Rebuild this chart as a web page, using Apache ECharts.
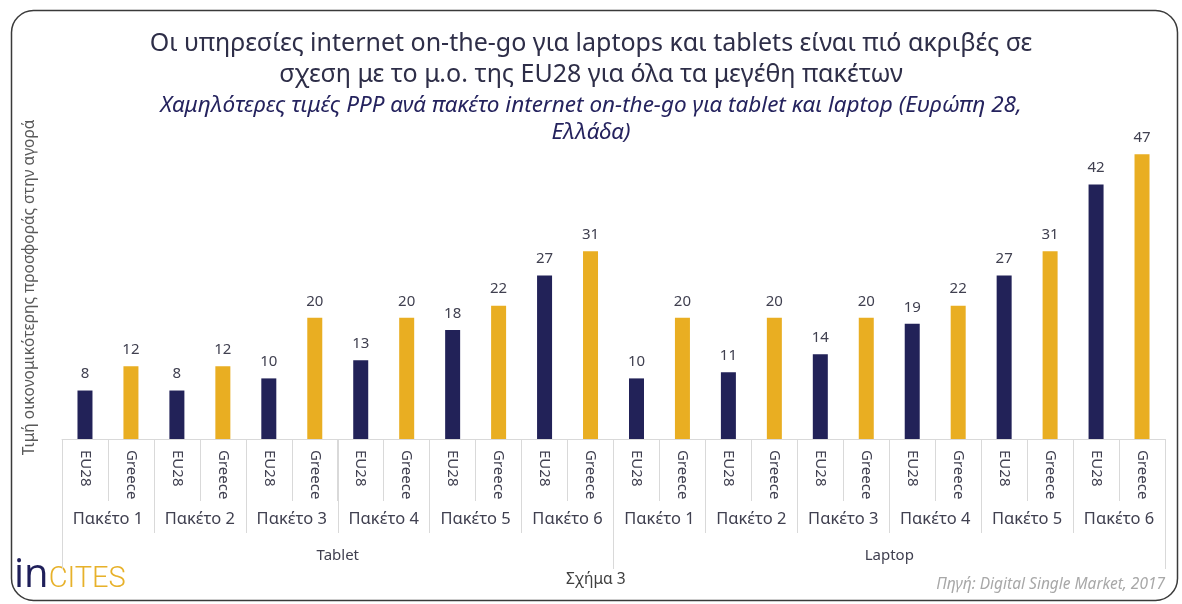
<!DOCTYPE html>
<html>
<head>
<meta charset="utf-8">
<script src="https://cdn.jsdelivr.net/npm/echarts@6/dist/echarts.min.js"></script>
<style>
html,body{margin:0;padding:0;background:#fff;}
#chart{width:1182px;height:604px;}
</style>
</head>
<body>
<div id="chart"></div>
<script>
const countries = ['EU28', 'Greece'];
const packages = ['Πακέτο 1', 'Πακέτο 2', 'Πακέτο 3', 'Πακέτο 4', 'Πακέτο 5', 'Πακέτο 6'];
const devices = ['Tablet', 'Laptop'];
const tabletEU28 = [8, 8, 10, 13, 18, 27];
const tabletGreece = [12, 12, 20, 20, 22, 31];
const laptopEU28 = [10, 11, 14, 19, 27, 42];
const laptopGreece = [20, 20, 20, 22, 31, 47];

const NAVY = '#222258';
const GOLD = '#E9AE22';
const FONT = 'Noto Sans';

const seriesByDevice = [[tabletEU28, tabletGreece], [laptopEU28, laptopGreece]];
const level1 = [], level2 = [], values = [];
devices.forEach((d, di) => {
  packages.forEach((p, pi) => {
    level2.push(p);
    countries.forEach((c, ci) => {
      level1.push(c);
      values.push({ value: seriesByDevice[di][ci][pi], itemStyle: { color: ci === 0 ? NAVY : GOLD } });
    });
  });
});

const gridPos = { left: 62, right: 17, top: 136, bottom: 165 };
const sepColor = '#d9d9d9';

const chart = echarts.init(document.getElementById('chart'), null, { renderer: 'canvas' });
chart.setOption({
  backgroundColor: '#ffffff',
  animation: false,
  textStyle: { fontFamily: FONT },
  title: [
    {
      text: 'Οι υπηρεσίες internet on-the-go για laptops και tablets είναι πιό ακριβές σε\nσχεση με το μ.ο. της EU28 για όλα τα μεγέθη πακέτων',
      left: 'center', top: 23,
      textStyle: { fontFamily: FONT, fontSize: 25, fontWeight: 'normal', color: '#2e2e48', lineHeight: 31 }
    },
    {
      text: 'Χαμηλότερες τιμές PPP ανά πακέτο internet on-the-go για tablet και laptop (Ευρώπη 28,\nΕλλάδα)',
      left: 'center', top: 87,
      textStyle: { fontFamily: FONT, fontSize: 22.5, fontStyle: 'italic', fontWeight: 'normal', color: '#25235e', lineHeight: 27 }
    }
  ],
  grid: [
    Object.assign({}, gridPos),
    Object.assign({}, gridPos),
    Object.assign({}, gridPos)
  ],
  xAxis: [
    {
      type: 'category', gridIndex: 0, data: level1,
      axisLine: { show: true, lineStyle: { color: sepColor, width: 1 } },
      axisTick: { show: true, length: 62, lineStyle: { color: sepColor } },
      axisLabel: { rotate: -90, margin: 11, fontSize: 15, color: '#404050', fontFamily: FONT, interval: 0 }
    },
    {
      type: 'category', gridIndex: 1, data: level2,
      axisLine: { show: false },
      axisTick: { show: true, length: 94, lineStyle: { color: sepColor } },
      axisLabel: { margin: 72, fontSize: 16.5, color: '#404050', fontFamily: FONT, interval: 0 }
    },
    {
      type: 'category', gridIndex: 2, data: devices,
      axisLine: { show: false },
      axisTick: { show: true, length: 130, lineStyle: { color: sepColor } },
      axisLabel: { margin: 109, fontSize: 15, color: '#404050', fontFamily: FONT, interval: 0 }
    }
  ],
  yAxis: [
    {
      type: 'value', gridIndex: 0, min: 0, max: 50, show: true,
      axisLine: { show: false }, axisTick: { show: false }, axisLabel: { show: false }, splitLine: { show: false },
      name: 'Τιμή οικονομικότερης προσφοράς στην αγορά',
      nameLocation: 'middle', nameRotate: 90, nameGap: 24,
      nameTextStyle: { fontFamily: FONT, fontSize: 15.5, color: '#595959' }
    },
    { type: 'value', gridIndex: 1, min: 0, max: 50, show: false },
    { type: 'value', gridIndex: 2, min: 0, max: 50, show: false }
  ],
  series: [
    {
      type: 'bar', xAxisIndex: 0, yAxisIndex: 0,
      data: values, barWidth: 15,
      label: { show: true, position: 'top', distance: 9, fontSize: 15, color: '#404050', fontFamily: FONT }
    }
  ],
  graphic: [
    {
      type: 'rect', left: 9, top: 8, z: -1,
      shape: { width: 1166, height: 590, r: 22 },
      style: { fill: 'none', stroke: '#3a3a3a', lineWidth: 1.5 }
    },
    {
      type: 'text', left: 14, top: 556,
      style: {
        text: '{a|in}{b|CITES}',
        rich: {
          a: { fontFamily: 'Open Sans', fontSize: 40, fill: '#1f1f5a', fontWeight: 'normal' },
          b: { fontFamily: 'Roboto', fontSize: 29, fontWeight: 300, fill: '#E7B12A', padding: [8, 0, 0, 0] }
        }
      }
    },
    {
      type: 'text', left: 566, top: 572,
      style: { text: 'Σχήμα 3', fontFamily: FONT, fontSize: 15.5, fill: '#404040' }
    },
    {
      type: 'text', right: 17, top: 577,
      style: { text: 'Πηγή: Digital Single Market, 2017', fontFamily: FONT, fontSize: 15.5, fontStyle: 'italic', fill: '#a8a8a8' }
    }
  ]
});
</script>
</body>
</html>
